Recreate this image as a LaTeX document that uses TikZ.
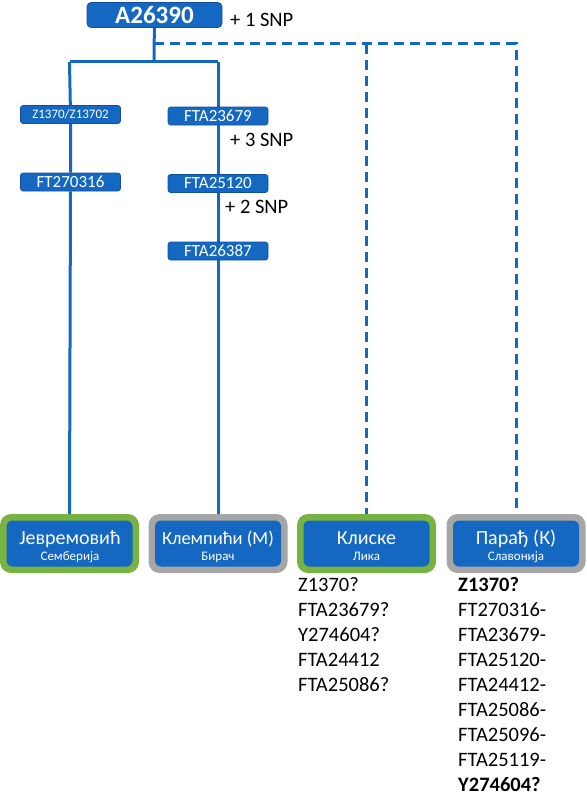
\documentclass[tikz,border=0pt]{standalone}
\usepackage{fontspec}
\setmainfont{Carlito}
\usetikzlibrary{backgrounds}
\definecolor{myblue}{RGB}{21,104,194}
\definecolor{myedge}{RGB}{16,80,160}
\definecolor{mygreen}{RGB}{120,178,66}
\definecolor{mygray}{RGB}{166,166,166}
\tikzset{
  conn/.style={draw=myblue,line width=3pt},
  dconn/.style={draw=myblue,line width=3pt,dash pattern=on 10pt off 6pt},
  smallbox/.style={fill=myblue,draw=myedge,line width=0.6pt,rounded corners=2.5pt,text=white,
    minimum width=100pt,minimum height=18pt,inner sep=0pt},
  topbox/.style={fill=myblue,draw=myedge,line width=0.6pt,rounded corners=4pt,text=white,
    minimum width=135pt,minimum height=25pt,inner sep=0pt,font=\fontsize{25}{28}\selectfont\bfseries},
  outerbox/.style={rounded corners=11pt,minimum width=139pt,minimum height=59pt,inner sep=0pt},
  innerbox/.style={fill=myblue,rounded corners=6pt,minimum width=126pt,minimum height=46pt,inner sep=0pt},
  maintxt/.style={text=white,anchor=base,font=\fontsize{20}{23}\selectfont,inner sep=0pt},
  subtxt/.style={text=white,anchor=base,font=\fontsize{13}{15}\selectfont,inner sep=0pt},
  snp/.style={anchor=west,font=\fontsize{20.5}{24}\selectfont,inner sep=0pt},
  listtxt/.style={anchor=base west,font=\fontsize{20.5}{24}\selectfont,inner sep=0pt},
}
\begin{document}
\begin{tikzpicture}[x=1pt,y=-1pt]
\useasboundingbox (0,0) rectangle (586,800);
% top
\node[topbox] (top) at (154.5,15) {A26390};
\node[snp] (snp1) at (230,20) {+ 1 SNP};
% left column
\node[smallbox,font=\fontsize{13}{15}\selectfont] (z1) at (70.5,114.5) {Z1370/Z13702};
\node[smallbox,font=\fontsize{17}{20}\selectfont] (ft) at (70.5,182) {FT270316};
% right column
\node[smallbox,font=\fontsize{17}{20}\selectfont] (fa1) at (218,116) {FTA23679};
\node[snp] (snp3) at (230,140) {+ 3 SNP};
\node[smallbox,font=\fontsize{17}{20}\selectfont] (fa2) at (218,183.5) {FTA25120};
\node[snp] (snp2) at (225,207) {+ 2 SNP};
\node[smallbox,font=\fontsize{17}{20}\selectfont] (fa3) at (218,251) {FTA26387};
% bottom boxes
\node[outerbox,fill=mygreen] (jevO) at (69.5,543.5) {};
\node[innerbox] (jev) at (jevO) {};
\node[maintxt] (jevT) at (70,544) {Јевремовић};
\node[subtxt] (jevS) at (70,560) {Семберија};
\node[outerbox,fill=mygray] (kleO) at (218,543.5) {};
\node[innerbox] (kle) at (kleO) {};
\node[maintxt,font=\fontsize{18.5}{22}\selectfont] (kleT) at (218,544) {Клемпићи (М)};
\node[subtxt] (kleS) at (218,560) {Бирач};
\node[outerbox,fill=mygreen] (kliO) at (366.5,543.5) {};
\node[innerbox] (kli) at (kliO) {};
\node[maintxt] (kliT) at (366.5,544) {Клиске};
\node[subtxt] (kliS) at (366.5,560) {Лика};
\node[outerbox,fill=mygray] (parO) at (516,543.5) {};
\node[innerbox] (par) at (parO) {};
\node[maintxt] (parT) at (516,544) {Парађ (К)};
\node[subtxt] (parS) at (516,560) {Славонија};
% lists
\foreach \t [count=\i] in {Z1370?,FTA23679?,Y274604?,FTA24412,FTA25086?}
  \node[listtxt] (kl\i) at (298,{591+25.1*(\i-1)}) {\t};
\node[listtxt,font=\fontsize{20.5}{24}\selectfont\bfseries] (pl1) at (458,591) {Z1370?};
\foreach \t [count=\i from 2] in {FT270316-,FTA23679-,FTA25120-,FTA24412-,FTA25086-,FTA25096-,FTA25119-}
  \node[listtxt] (pl\i) at (458,{591+25.1*(\i-1)}) {\t};
\node[listtxt,font=\fontsize{20.5}{24}\selectfont\bfseries] (pl9) at (458,{591+25.1*8}) {Y274604?};
% connectors
\coordinate (jM) at (154,62);
\coordinate (jL) at (69.5,62);
\coordinate (jR) at (218,62);
\coordinate (dM) at (154,44);
\coordinate (dK) at (366.5,44);
\coordinate (dP) at (516,44);
\begin{scope}[on background layer]
\draw[conn] (top) -- (jM);
\draw[conn] (jL) -- (jR);
\draw[conn] (jL) -- (z1) -- (ft) -- (jevO.north);
\draw[conn] (jR) -- (fa1) -- (fa2) -- (fa3) -- (kleO.north);
\draw[dconn] (dM) -- (dP) -- (parO.north);
\draw[dconn] (dK) -- (kliO.north);
\end{scope}
\end{tikzpicture}
\end{document}
